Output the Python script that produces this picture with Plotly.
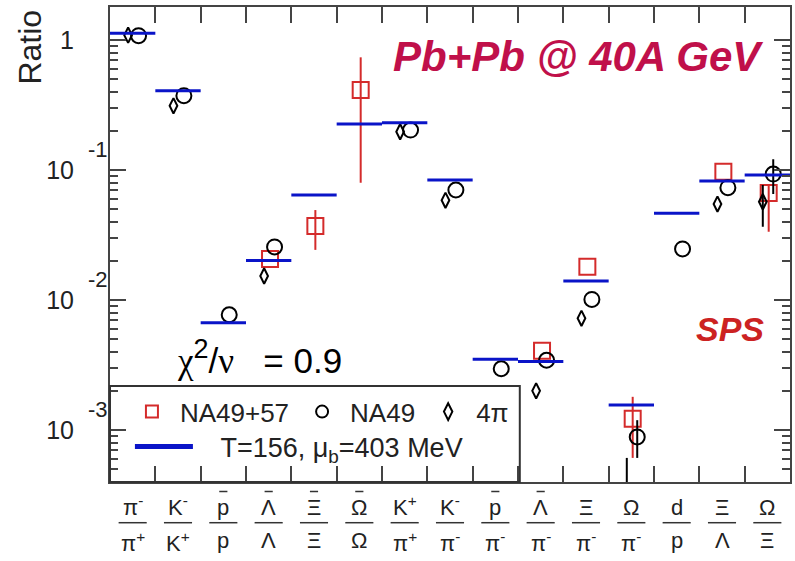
import math
import plotly.graph_objects as go

# ---------------------------------------------------------------- data
categories = ["pi-/pi+", "K-/K+", "pbar/p", "Lbar/L", "Xibar/Xi", "Ombar/Om",
              "K+/pi+", "K-/pi-", "pbar/pi-", "Lbar/pi-", "Xi/pi-", "Om/pi-",
              "d/p", "Xi/L", "Om/Xi"]

num_labels = ["π<sup>-</sup>", "K<sup>-</sup>", "p", "Λ", "Ξ", "Ω",
              "K<sup>+</sup>", "K<sup>-</sup>", "p", "Λ", "Ξ", "Ω",
              "d", "Ξ", "Ω"]
# antiparticle bar over the numerator
num_antiparticle = [False, False, True, True, True, True,
                    False, False, True, True, False, False,
                    False, False, False]
den_labels = ["π<sup>+</sup>", "K<sup>+</sup>", "p", "Λ", "Ξ", "Ω",
              "π<sup>+</sup>", "π<sup>-</sup>", "π<sup>-</sup>", "π<sup>-</sup>", "π<sup>-</sup>", "π<sup>-</sup>",
              "p", "Λ", "Ξ"]

# thermal model fit, T=156 MeV, mu_B=403 MeV
theory = [1.125, 0.408, 0.00669, 0.0201, 0.0643, 0.226, 0.231, 0.0838,
          0.0035, 0.00337, 0.0140, 0.00156, 0.0464, 0.0822, 0.0915]

# NA49+57 (open squares)
na4957 = [None, None, None, 0.0207, 0.0371, 0.413, None, None,
          None, 0.00407, 0.0180, 0.00122, None, 0.0970, 0.0665]
na4957_hi = [None, None, None, None, 0.0492, 0.736, None, None,
             None, None, None, 0.0018, None, None, 0.078]
na4957_lo = [None, None, None, None, 0.0243, 0.0798, None, None,
             None, None, None, 0.00061, None, None, 0.0335]

# NA49 (open circles)
na49 = [1.08, 0.373, 0.0077, 0.0256, None, None, 0.203, 0.0702,
        0.00296, 0.00344, 0.0101, 0.000884, 0.0247, 0.0731, 0.093]
na49_hi = [None, None, None, None, None, None, None, None,
           None, None, None, 0.00119, None, None, 0.121]
na49_lo = [None, None, None, None, None, None, None, None,
           None, None, None, 0.00061, None, None, 0.0654]

# 4pi (open diamonds)
full4pi = [1.09, 0.312, None, 0.0153, None, None, 0.197, 0.0585,
           None, 0.0020, 0.00723, 0.0003, None, 0.0547, 0.057]
full4pi_hi = [None, None, None, None, None, None, None, None,
              None, None, None, 0.00061, None, None, 0.0767]
full4pi_lo = [None, None, None, None, None, None, None, None,
              None, None, None, 0.0002, None, None, 0.0366]

y_tickvals = [1e-3, 1e-2, 1e-1, 1]
y_ticktext = ["10", "10", "10", "1"]
y_exponents = ["-3", "-2", "-1", ""]

FONT = "Liberation Sans, Arial, sans-serif"
SERIF = "Liberation Serif, Times New Roman, serif"
RED = "#D42B2B"
BLUE = "#0A14C8"
AXIS = "#444444"
TXT = "#222222"


def errors(vals, hi, lo):
    plus, minus = [], []
    for v, h, l in zip(vals, hi, lo):
        plus.append(0 if (v is None or h is None) else h - v)
        minus.append(0 if (v is None or l is None) else v - l)
    return plus, minus


def shifted(offset, vals):
    return [i + offset for i, v in enumerate(vals)]


fig = go.Figure()

p, m = errors(na4957, na4957_hi, na4957_lo)
fig.add_trace(go.Scatter(
    x=shifted(0.03, na4957), y=na4957, mode="markers", name="NA49+57",
    marker=dict(symbol="square-open", size=16, color=RED, line=dict(width=2)),
    error_y=dict(type="data", array=p, arrayminus=m, color=RED, thickness=2, width=0),
    legend="legend"))

p, m = errors(na49, na49_hi, na49_lo)
fig.add_trace(go.Scatter(
    x=shifted(0.13, na49), y=na49, mode="markers", name="NA49",
    marker=dict(symbol="circle-open", size=15, color="black", line=dict(width=2)),
    error_y=dict(type="data", array=p, arrayminus=m, color="black", thickness=2, width=0),
    legend="legend"))

p, m = errors(full4pi, full4pi_hi, full4pi_lo)
fig.add_trace(go.Scatter(
    x=shifted(-0.1, full4pi), y=full4pi, mode="markers", name="4π",
    marker=dict(symbol="diamond-tall-open", size=11, color="black", line=dict(width=2)),
    error_y=dict(type="data", array=p, arrayminus=m, color="black", thickness=2, width=0),
    legend="legend"))

# model values drawn as horizontal bars across each category
tx, ty = [], []
for i, v in enumerate(theory):
    tx += [i - 0.5, i + 0.5, None]
    ty += [v, v, None]
fig.add_trace(go.Scatter(
    x=tx, y=ty, mode="lines",
    name="\u00a0\u00a0\u00a0T=156, μ<sub>b</sub>=403 MeV",
    line=dict(color=BLUE, width=3), legend="legend2"))

annotations = []
shapes = []

# fraction-style category labels
for i, (n, d) in enumerate(zip(num_labels, den_labels)):
    annotations.append(dict(x=i, y=-0.0842, xref="x", yref="paper", text=n,
                            showarrow=False, xanchor="center", yanchor="bottom",
                            font=dict(family=FONT, size=22, color=TXT)))
    annotations.append(dict(x=i, y=-0.0926, xref="x", yref="paper", text=d,
                            showarrow=False, xanchor="center", yanchor="top",
                            font=dict(family=FONT, size=22, color=TXT)))
    shapes.append(dict(type="line", xref="x", yref="paper", x0=i - 0.31, x1=i + 0.31,
                       y0=-0.0857, y1=-0.0857, line=dict(color="#333333", width=1.5)))
    if num_antiparticle[i]:
        shapes.append(dict(type="line", xref="x", yref="paper", x0=i - 0.09, x1=i + 0.09,
                           y0=-0.020, y1=-0.020, line=dict(color="#333333", width=1.5)))

# exponents of the decade labels
for v, e in zip(y_tickvals, y_exponents):
    if e:
        annotations.append(dict(x=-0.0176, y=math.log10(v), xref="paper", yref="y",
                                text=e, showarrow=False, xanchor="center", yanchor="middle",
                                yshift=21, font=dict(family=FONT, size=22, color=TXT)))

annotations += [
    dict(x=-0.1173, y=0.915, xref="paper", yref="paper", text="Ratio", textangle=-90,
         showarrow=False, xanchor="center", yanchor="middle",
         font=dict(family=FONT, size=32, color=TXT)),
    dict(x=0.688, y=0.8968, xref="paper", yref="paper",
         text="<b><i>Pb+Pb @ 40A GeV</i></b>", showarrow=False,
         xanchor="center", yanchor="middle",
         font=dict(family=FONT, size=42, color="#C0104A")),
    dict(x=0.912, y=0.322, xref="paper", yref="paper", text="<b><i>SPS</i></b>",
         showarrow=False, xanchor="center", yanchor="middle",
         font=dict(family=FONT, size=34, color="#CC2222")),
    dict(x=0.0953, y=0.263, xref="paper", yref="paper",
         text=f"<span style='font-family:{SERIF}'>χ</span>"
              f"<sup><span style='font-size:27px'>2</span></sup>/"
              f"<span style='font-family:{SERIF}'>ν</span>\u00a0\u00a0\u00a0= 0.9",
         showarrow=False, xanchor="left", yanchor="middle",
         font=dict(family=FONT, size=35, color="black")),
]

# legend frame
shapes.append(dict(type="rect", xref="paper", yref="paper", x0=0, x1=(521 - 110) / 682,
                   y0=0, y1=(482 - 386) / 475, line=dict(color="#333333", width=2),
                   layer="above"))

minor_vals = [k * 10.0 ** e for e in (-4, -3, -2, -1, 0) for k in range(2, 10)]

fig.update_layout(
    width=795, height=561,
    margin=dict(l=110, r=3, t=7, b=79),
    paper_bgcolor="white", plot_bgcolor="white",
    font=dict(family=FONT, color=TXT),
    showlegend=True,
    legend=dict(orientation="h", x=0.0205, y=0.148, xanchor="left", yanchor="middle",
                bgcolor="rgba(0,0,0,0)", font=dict(family=FONT, size=26, color=TXT),
                itemsizing="constant", itemwidth=46),
    legend2=dict(orientation="h", x=0.0293, y=0.074, xanchor="left", yanchor="middle",
                 bgcolor="rgba(0,0,0,0)", font=dict(family=FONT, size=27, color=TXT),
                 itemsizing="constant", itemwidth=58),
    xaxis=dict(range=[-0.5, 14.5], tickmode="array",
               tickvals=[k - 0.5 for k in range(16)], showticklabels=False,
               ticks="inside", ticklen=16, tickwidth=1.5, tickcolor=AXIS,
               showline=True, linecolor=AXIS, linewidth=2, mirror="ticks",
               showgrid=False, zeroline=False),
    yaxis=dict(type="log", range=[-3.4, 0.254], tickmode="array",
               tickvals=y_tickvals, ticktext=y_ticktext,
               ticks="inside", ticklen=16, tickwidth=1.5, tickcolor=AXIS,
               ticklabelstandoff=29,
               tickfont=dict(family=FONT, size=25, color=TXT),
               minor=dict(tickmode="array", tickvals=minor_vals, ticks="inside",
                          ticklen=8, tickwidth=1.5, tickcolor=AXIS, showgrid=False),
               showline=True, linecolor=AXIS, linewidth=2, mirror="ticks",
               showgrid=False, zeroline=False),
    annotations=annotations,
    shapes=shapes,
)

fig.write_html("out.html")
